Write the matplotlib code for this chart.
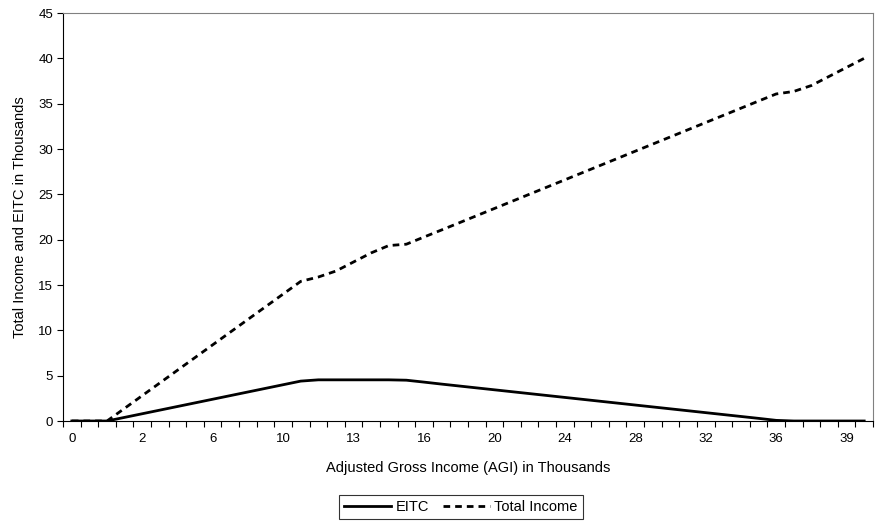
import numpy as np
import matplotlib
matplotlib.use("Agg")
import matplotlib.pyplot as plt
from matplotlib.ticker import FixedLocator, NullFormatter, FixedFormatter

plt.rcParams['font.family'] = ['Liberation Sans', 'DejaVu Sans']

# AGI categories (thousands), EITC and total income (thousands)
agi_labels = ["0", "2", "6", "10", "13", "16", "20", "24", "28", "32", "36", "39"]
eitc = [0, 0, 0, 0.4, 0.8, 1.2, 1.6, 2.0, 2.4, 2.8, 3.2, 3.6, 4.0, 4.4, 4.54,
        4.54, 4.54, 4.54, 4.54, 4.5, 4.29, 4.07, 3.86, 3.65, 3.44, 3.23, 3.02,
        2.81, 2.60, 2.39, 2.18, 1.97, 1.76, 1.55, 1.34, 1.13, 0.92, 0.71, 0.50,
        0.29, 0.07, 0, 0, 0, 0, 0]
total_income = [0, 0, 0, 1.4, 2.8, 4.2, 5.6, 7.0, 8.4, 9.8, 11.2, 12.6, 14.0,
                15.4, 15.88, 16.54, 17.54, 18.54, 19.35, 19.5, 20.29, 21.07,
                21.86, 22.65, 23.44, 24.23, 25.02, 25.81, 26.6, 27.39, 28.18,
                28.97, 29.76, 30.55, 31.34, 32.13, 32.92, 33.71, 34.5, 35.29,
                36.07, 36.35, 37, 38, 39, 40]

n = len(eitc)
x = np.arange(n)

fig = plt.figure(figsize=(8.75, 5.22), dpi=100)
ax = fig.add_axes([63/875, 1 - 421/522, 810/875, 408/522])

ax.plot(x, eitc, color='black', lw=2.0, label='EITC', solid_joinstyle='round')
ax.plot(x, total_income, color='black', lw=2.0, dashes=(2.4, 1.8), label='Total Income')

ax.set_xlim(-0.5, n - 0.5)
ax.set_ylim(0, 45)
ax.set_yticks(np.arange(0, 46, 5))

# tick marks between categories, labels on every 4th category
ax.xaxis.set_major_locator(FixedLocator(np.arange(n + 1) - 0.5))
ax.xaxis.set_major_formatter(NullFormatter())
ax.xaxis.set_minor_locator(FixedLocator(np.arange(0, n, 4)))
ax.xaxis.set_minor_formatter(FixedFormatter(agi_labels))
ax.tick_params(axis='x', which='major', direction='out', length=4, width=0.8, color='black')
ax.tick_params(axis='x', which='minor', length=0, pad=9, labelsize=9.5)
ax.tick_params(axis='y', direction='out', length=4, width=0.8, labelsize=9.5, pad=3)

for side in ['top', 'right']:
    ax.spines[side].set_color('#808080')
    ax.spines[side].set_linewidth(0.8)
for side in ['left', 'bottom']:
    ax.spines[side].set_color('black')
    ax.spines[side].set_linewidth(0.8)

ax.set_xlabel('Adjusted Gross Income (AGI) in Thousands', fontsize=10.5, labelpad=11)
ax.set_ylabel('Total Income and EITC in Thousands', fontsize=10.5, labelpad=8)

leg = fig.legend(loc='center', bbox_to_anchor=(461/875, 1 - 507/522), ncol=2,
                 frameon=True, fancybox=False, fontsize=10.5, handlelength=3.2,
                 handletextpad=0.3, columnspacing=1.0, borderpad=0.35)
leg.get_frame().set_edgecolor('black')
leg.get_frame().set_linewidth(0.8)

fig.savefig('out.png', dpi=100)
